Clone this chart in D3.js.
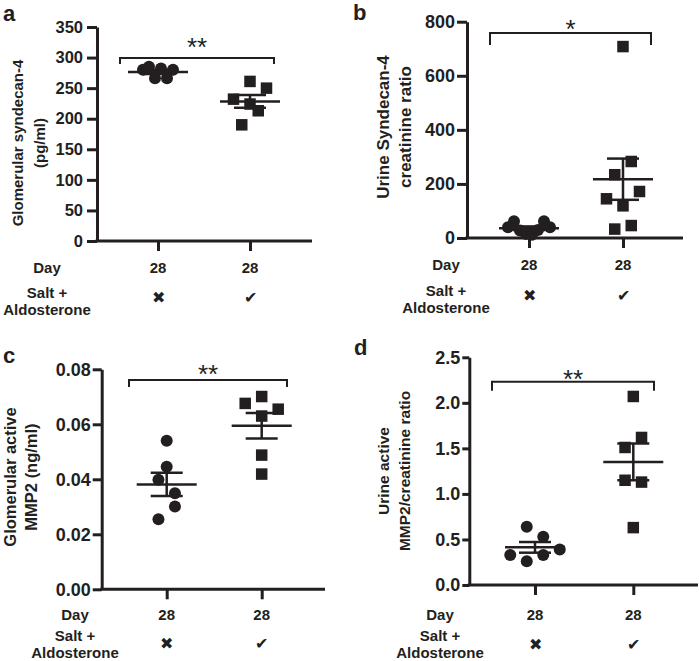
<!DOCTYPE html>
<html><head><meta charset="utf-8">
<script src="https://cdn.jsdelivr.net/npm/d3@7"></script>
<style>
body{margin:0;background:#fff}
svg{display:block}
text{font-family:"Liberation Sans",Arial,sans-serif;fill:#231f20}
</style>
</head><body>
<svg id="chart" width="699" height="661"></svg>
<script>
// ---------------- data ----------------
const groups = ["Control", "Salt + Aldosterone"];
const dayLabels = ["28", "28"];
const treatmentMarks = ["\u2716", "\u2714"];
const rowLabels = ["Day", "Salt +", "Aldosterone"];
const panelLetters = ["a", "b", "c", "d"];
const yTitles = [
  ["Glomerular syndecan-4", "(pg/ml)"],
  ["Urine Syndecan-4", "creatinine ratio"],
  ["Glomerular active", "MMP2 (ng/ml)"],
  ["Urine active", "MMP2/creatinine ratio"]
];
const significance = ["**", "*", "**", "**"];

const yTicksA = [0, 50, 100, 150, 200, 250, 300, 350];
const yTicksB = [0, 200, 400, 600, 800];
const yTicksC = [0, 0.02, 0.04, 0.06, 0.08];
const yTicksD = [0, 0.5, 1.0, 1.5, 2.0, 2.5];

const controlA = [280, 285, 266, 282, 266, 280];
const treatedA = [261, 232, 224, 250, 190, 213];
const controlB = [40, 62, 28, 15, 12, 30, 62, 40];
const treatedB = [708, 234, 283, 145, 119, 172, 33, 46];
const controlC = [0.054, 0.0446, 0.0398, 0.0349, 0.0255, 0.0301];
const treatedC = [0.0701, 0.0676, 0.0630, 0.0655, 0.0488, 0.0419];
const controlD = [0.64, 0.53, 0.33, 0.26, 0.33, 0.39];
const treatedD = [2.07, 1.51, 1.62, 1.15, 1.13, 0.63];

// ---------------- layout ----------------
const INK = "#231f20";
const panels = [
  {ctrl: controlA, trt: treatedA, ticks: yTicksA, fmt: d3.format("d"), tickFs: 16.5, tickLen: 10, tickPad: 4, titleFs: 15,
   ax: 97, axEnd: 312, top: 27, bot: 241, cats: [158, 250],
   titleX: [18, 40], titleCY: 143, rowX: 47, rowY: [268, 293, 309.5], markY: 297,
   letter: [3, 20.5], br: {x1: 120, x2: 274, y: 58, drop: 6}, starCY: 43},
  {ctrl: controlB, trt: treatedB, ticks: yTicksB, fmt: d3.format("d"), tickFs: 18, tickLen: 10, tickPad: 2, titleFs: 17,
   ax: 467, axEnd: 683, top: 21.7, bot: 238, cats: [529, 623],
   titleX: [383, 405], titleCY: 127, rowX: 446, rowY: [265, 291, 307.5], markY: 295,
   letter: [353, 19.5], br: {x1: 490, x2: 651, y: 33, drop: 12}, starCY: 25},
  {ctrl: controlC, trt: treatedC, ticks: yTicksC, fmt: d3.format(".2f"), tickFs: 18, tickLen: 9, tickPad: 2, titleFs: 16.5,
   ax: 101.7, axEnd: 325, top: 369.3, bot: 589.3, cats: [166.7, 261.7],
   titleX: [10, 31], titleCY: 477, rowX: 75, rowY: [615, 636, 652.5], markY: 643,
   letter: [3, 363], br: {x1: 129, x2: 287, y: 380, drop: 7}, starCY: 370},
  {ctrl: controlD, trt: treatedD, ticks: yTicksD, fmt: d3.format(".1f"), tickFs: 18, tickLen: 7, tickPad: 2, titleFs: 15.5,
   ax: 469.3, axEnd: 698, top: 357.3, bot: 585, cats: [535, 633.3],
   titleX: [383.3, 405], titleCY: 471, rowX: 440, rowY: [615, 636, 652.5], markY: 644,
   letter: [354, 355], br: {x1: 492, x2: 654, y: 381.7, drop: 9}, starCY: 375}
];

const ROW_T = 17, ROW_S = 16.5, CROWD_S = 6;
const R_CIRCLE = 6, SQ = 11.5;

function spread(values, y) {
  const idx = values.map((v, i) => i).sort((a, b) => values[a] - values[b]);
  const rows = []; let cur = null;
  idx.forEach(i => {
    const py = y(values[i]);
    if (!cur || Math.abs(py - cur.start) >= ROW_T) { cur = {start: py, members: []}; rows.push(cur); }
    cur.members.push(i);
  });
  const off = new Array(values.length).fill(0);
  rows.forEach(r => {
    const m = r.members.slice().sort((a, b) => a - b);
    const n = m.length, s = n <= 4 ? ROW_S : CROWD_S;
    m.forEach((i, k) => off[i] = (k - (n - 1) / 2) * s);
  });
  return off;
}

const svg = d3.select("#chart");

panels.forEach((p, pi) => {
  const g = svg.append("g");
  const y = d3.scaleLinear().domain([p.ticks[0], p.ticks[p.ticks.length - 1]]).range([p.bot, p.top]);
  const x = d3.scalePoint().domain(groups).range(p.cats);

  // y axis
  const yAxis = d3.axisLeft(y).tickValues(p.ticks).tickFormat(p.fmt).tickSize(p.tickLen).tickPadding(p.tickPad).tickSizeOuter(0);
  const ya = g.append("g").attr("transform", `translate(${p.ax},0)`).call(yAxis);
  ya.select(".domain").attr("stroke", INK).attr("stroke-width", 3);
  ya.selectAll(".tick line").attr("stroke", INK).attr("stroke-width", 3);
  ya.selectAll(".tick text").attr("font-size", p.tickFs).attr("font-weight", "bold")
    .attr("font-family", "Liberation Sans, Arial, sans-serif").attr("fill", INK);

  // x axis
  g.append("line").attr("x1", p.ax - 1.5).attr("x2", p.axEnd).attr("y1", p.bot).attr("y2", p.bot)
    .attr("stroke", INK).attr("stroke-width", 3);
  const xAxis = d3.axisBottom(x).tickSize(10).tickFormat(() => "").tickSizeOuter(0);
  const xa = g.append("g").attr("transform", `translate(0,${p.bot})`).call(xAxis);
  xa.select(".domain").remove();
  xa.selectAll(".tick line").attr("stroke", INK).attr("stroke-width", 3);

  // category rows
  const lab = (t, xx, yy, fs) => g.append("text").attr("x", xx).attr("y", yy).attr("dy", "0.35em")
    .attr("text-anchor", "middle").attr("font-size", fs).attr("font-weight", "bold").text(t);
  lab(rowLabels[0], p.rowX, p.rowY[0], 15);
  lab(rowLabels[1], p.rowX, p.rowY[1], 15);
  lab(rowLabels[2], p.rowX, p.rowY[2], 15);
  groups.forEach((gr, i) => {
    lab(dayLabels[i], x(gr), p.rowY[0], 15);
    g.append("text").attr("x", x(gr)).attr("y", p.markY).attr("dy", "0.35em")
      .attr("text-anchor", "middle").attr("font-size", 16)
      .attr("font-family", "DejaVu Sans, sans-serif").text(treatmentMarks[i]);
  });

  // y title
  yTitles[pi].forEach((t, li) => {
    g.append("text").attr("transform", `translate(${p.titleX[li]},${p.titleCY}) rotate(-90)`)
      .attr("dy", "0.35em").attr("text-anchor", "middle").attr("font-size", p.titleFs)
      .attr("font-weight", "bold").text(t);
  });

  // panel letter
  g.append("text").attr("x", p.letter[0]).attr("y", p.letter[1]).attr("font-size", 22)
    .attr("font-weight", "bold").text(panelLetters[pi]);

  // significance bracket
  const b = p.br;
  g.append("path").attr("d", `M${b.x1},${b.y + b.drop}V${b.y}H${b.x2}V${b.y + b.drop}`)
    .attr("fill", "none").attr("stroke", INK).attr("stroke-width", 2);
  g.append("text").attr("x", (b.x1 + b.x2) / 2).attr("y", p.starCY + 13).attr("text-anchor", "middle")
    .attr("font-size", 26).text(significance[pi]);

  // points
  [p.ctrl, p.trt].forEach((vals, gi) => {
    const cx = x(groups[gi]);
    const off = spread(vals, y);
    if (gi === 0) {
      g.selectAll(null).data(vals).enter().append("circle")
        .attr("cx", (d, i) => cx + off[i]).attr("cy", d => y(d)).attr("r", R_CIRCLE).attr("fill", INK);
    } else {
      g.selectAll(null).data(vals).enter().append("rect")
        .attr("x", (d, i) => cx + off[i] - SQ / 2).attr("y", d => y(d) - SQ / 2)
        .attr("width", SQ).attr("height", SQ).attr("fill", INK);
    }
    const m = d3.mean(vals), se = d3.deviation(vals) / Math.sqrt(vals.length);
    const ln = (x1, x2, y1, y2) => g.append("line").attr("x1", x1).attr("x2", x2).attr("y1", y1).attr("y2", y2)
      .attr("stroke", INK).attr("stroke-width", 2.5);
    ln(cx, cx, y(m - se), y(m + se));
    ln(cx - 16, cx + 16, y(m - se), y(m - se));
    ln(cx - 16, cx + 16, y(m + se), y(m + se));
    ln(cx - 30, cx + 30, y(m), y(m));
  });
});
</script>
</body></html>
